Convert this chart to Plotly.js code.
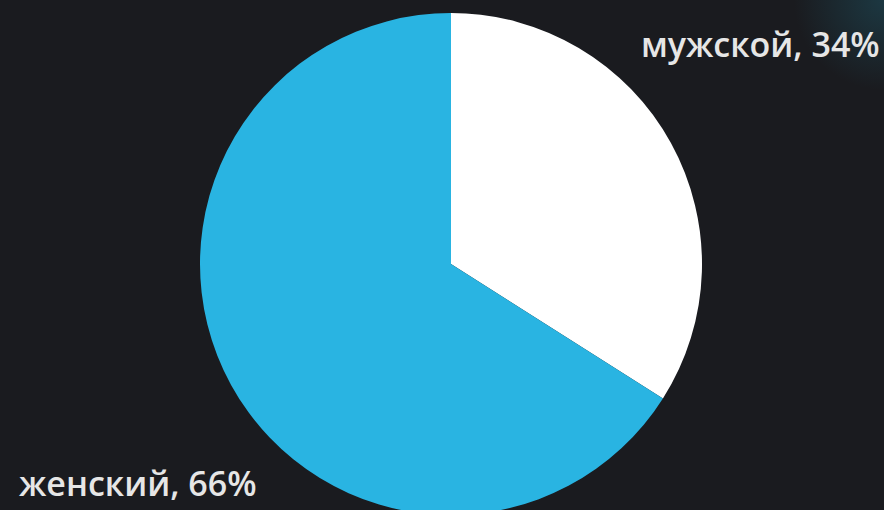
<!DOCTYPE html>
<html>
<head>
<meta charset="utf-8">
<script src="https://cdn.plot.ly/plotly-3.0.1.min.js"></script>
<style>
html,body{margin:0;padding:0;width:884px;height:510px;overflow:hidden;
background:#1a1b1f;}
body{background:radial-gradient(circle at 884px 0px, rgba(30,80,95,0.55) 0px, rgba(26,27,31,0) 90px), #1a1b1f;}
#chart{width:884px;height:530px;}
</style>
</head>
<body>
<div id="chart"></div>
<script>
const labels = ["мужской", "женский"];
const values = [34, 66];
const colors = ["#ffffff", "#29b4e2"];

const H = 530, W = 884;
const labelPos = [[760, 44], [138, 483]]; // pixel positions of label centers

const annotations = labels.map((l, i) => ({
  text: l + ", " + values[i] + "%",
  x: labelPos[i][0] / W, y: 1 - labelPos[i][1] / H,
  xref: "paper", yref: "paper", xanchor: "center", yanchor: "middle",
  showarrow: false,
  font: {family: "Open Sans", size: 34, color: "#e6e6e6", weight: 600}
}));

Plotly.newPlot("chart", [{
  type: "pie",
  labels: labels,
  values: values,
  sort: false,
  direction: "clockwise",
  rotation: 0,
  marker: {colors: colors, line: {width: 0}},
  textinfo: "none",
  hoverinfo: "none",
  domain: {x: [200 / W, 702 / W], y: [1 - 515 / H, 1 - 13 / H]}
}], {
  width: W, height: H,
  margin: {l: 0, r: 0, t: 0, b: 0},
  paper_bgcolor: "rgba(0,0,0,0)",
  plot_bgcolor: "rgba(0,0,0,0)",
  showlegend: false,
  annotations: annotations
}, {staticPlot: true, displayModeBar: false});
</script>
</body>
</html>
